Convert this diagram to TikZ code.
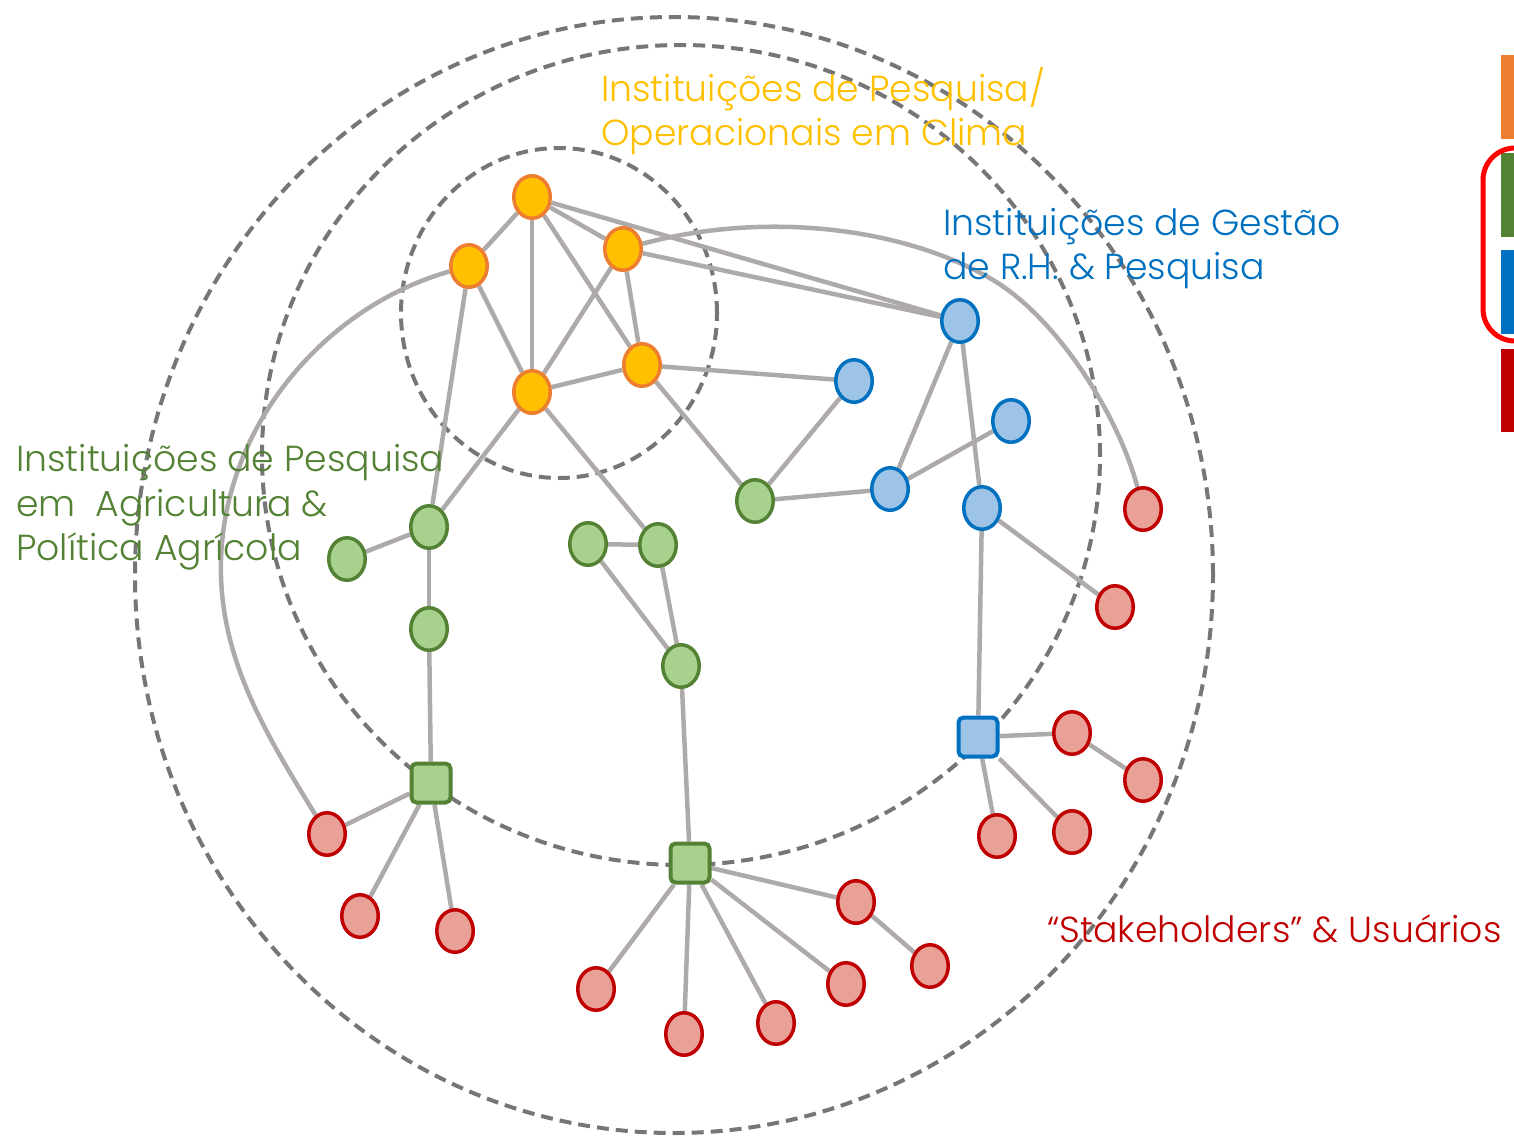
\documentclass[tikz,border=0pt]{standalone}
\usepackage{fontspec}
\setmainfont{Poppins}[UprightFont=* Light]
\usetikzlibrary{shapes.geometric}
\definecolor{orF}{HTML}{FFC000}
\definecolor{orB}{HTML}{ED7D31}
\definecolor{blF}{HTML}{9DC3E6}
\definecolor{blB}{HTML}{0070C0}
\definecolor{grF}{HTML}{A9D18E}
\definecolor{grB}{HTML}{548235}
\definecolor{rdF}{HTML}{E9A097}
\definecolor{rdB}{HTML}{C00000}
\definecolor{edgeC}{HTML}{AEAAAA}
\definecolor{ringC}{HTML}{767676}
\definecolor{brk}{HTML}{FF0000}
\pgfdeclarelayer{bg}
\pgfsetlayers{bg,main}
\begin{document}
\begin{tikzpicture}[x=1pt,y=-1pt,
  nd/.style={ellipse,minimum width=36.5pt,minimum height=42.5pt,inner sep=0pt,line width=3.5pt},
  onode/.style={nd,draw=orB,fill=orF},
  bnode/.style={nd,draw=blB,fill=blF},
  gnode/.style={nd,draw=grB,fill=grF},
  rnode/.style={nd,draw=rdB,fill=rdF},
  sq/.style={rectangle,rounded corners=5pt,minimum size=39pt,inner sep=0pt,line width=4pt},
  gsq/.style={sq,draw=grB,fill=grF},
  bsq/.style={sq,draw=blB,fill=blF},
  edge/.style={draw=edgeC,line width=4.5pt},
  ring/.style={draw=ringC,line width=4pt,dash pattern=on 12pt off 7pt},
  lbl/.style={anchor=base west,inner sep=0pt,font=\fontsize{36.2}{42}\selectfont}
]
\useasboundingbox (0,0) rectangle (1514,1135);

% nodes
\node[onode] (O1) at (532,197) {};
\node[onode] (O2) at (469,266) {};
\node[onode] (O3) at (623,249) {};
\node[onode] (O4) at (642,365) {};
\node[onode] (O5) at (532,392) {};
\node[bnode] (B1) at (960,321) {};
\node[bnode] (B2) at (854,381) {};
\node[bnode] (B3) at (1011,421) {};
\node[bnode] (B4) at (890,489) {};
\node[bnode] (B5) at (982,508) {};
\node[bsq] (BS) at (978,737) {};
\node[gnode] (G1) at (429,527) {};
\node[gnode] (G2) at (347,559) {};
\node[gnode] (G3) at (429,629) {};
\node[gnode] (G4) at (588,544) {};
\node[gnode] (G5) at (658,545) {};
\node[gnode] (G6) at (681,666) {};
\node[gnode] (G7) at (755,501) {};
\node[gsq] (GS1) at (431,783) {};
\node[gsq] (GS2) at (690,863) {};
\node[rnode] (R1) at (1143,509) {};
\node[rnode] (R2) at (1115,607) {};
\node[rnode] (R3) at (1072,733) {};
\node[rnode] (R4) at (1143,780) {};
\node[rnode] (R5) at (997,836) {};
\node[rnode] (R6) at (1072,832) {};
\node[rnode] (R7) at (327,834) {};
\node[rnode] (R8) at (360,916) {};
\node[rnode] (R9) at (455,931) {};
\node[rnode] (R10) at (856,902) {};
\node[rnode] (R11) at (930,966) {};
\node[rnode] (R12) at (596,989) {};
\node[rnode] (R13) at (684,1034) {};
\node[rnode] (R14) at (776,1023) {};
\node[rnode] (R15) at (846,984) {};

\begin{pgfonlayer}{bg}
\draw[ring] (674,575) ellipse [x radius=539pt, y radius=558pt];
\draw[ring] (681,455) ellipse [x radius=419pt, y radius=410pt];
\draw[ring] (559,313) ellipse [x radius=158pt, y radius=165pt];
% edges
\draw[edge] (O1) -- (O2);
\draw[edge] (O1) -- (O5);
\draw[edge] (O1) -- (O3);
\draw[edge] (O1) -- (O4);
\draw[edge] (O1) -- (B1);
\draw[edge] (O3) -- (B1);
\draw[edge] (O3) -- (O4);
\draw[edge] (O3) -- (O5);
\draw[edge] (O2) -- (O5);
\draw[edge] (O2) -- (G1);
\draw[edge] (O5) -- (O4);
\draw[edge] (O5) -- (G1);
\draw[edge] (O5) -- (G5);
\draw[edge] (O4) -- (B2);
\draw[edge] (O4) -- (G7);
\draw[edge] (O3) .. controls (760,212) and (900,225) .. (993,280) .. controls (1060,320) and (1120,420) .. (R1);
\draw[edge] (O2) .. controls (330,305) and (225,420) .. (221,560) .. controls (218,660) and (270,740) .. (R7);
\draw[edge] (G1) -- (G2);
\draw[edge] (G1) -- (G3);
\draw[edge] (G3) -- (GS1);
\draw[edge] (G4) -- (G5);
\draw[edge] (G4) -- (G6);
\draw[edge] (G5) -- (G6);
\draw[edge] (G6) -- (GS2);
\draw[edge] (G7) -- (B2);
\draw[edge] (G7) -- (B4);
\draw[edge] (GS1) -- (R7);
\draw[edge] (GS1) -- (R8);
\draw[edge] (GS1) -- (R9);
\draw[edge] (GS2) -- (R12);
\draw[edge] (GS2) -- (R13);
\draw[edge] (GS2) -- (R14);
\draw[edge] (GS2) -- (R15);
\draw[edge] (GS2) -- (R10);
\draw[edge] (R10) -- (R11);
\draw[edge] (B1) -- (B4);
\draw[edge] (B1) -- (B5);
\draw[edge] (B4) -- (B3);
\draw[edge] (B5) -- (R2);
\draw[edge] (B5) -- (BS);
\draw[edge] (BS) -- (R3);
\draw[edge] (R3) -- (R4);
\draw[edge] (BS) -- (R5);
\draw[edge] (BS) -- (R6);
\end{pgfonlayer}

% labels
\node[lbl,text=orF] (LO1) at (601,101) {Instituições de Pesquisa/};
\node[lbl,text=orF] (LO2) at (601,145) {Operacionais em Clima};
\node[lbl,text=blB] (LB1) at (943,235) {Instituições de Gestão};
\node[lbl,text=blB] (LB2) at (943,279) {de R.H. \& Pesquisa};
\node[lbl,text=grB] (LG1) at (16,471) {Instituições de Pesquisa};
\node[lbl,text=grB] (LG2) at (16,516) {em\ \ Agricultura \&};
\node[lbl,text=grB] (LG3) at (16,560) {Política Agrícola};
\node[lbl,text=rdB] (LR1) at (1047,942) {“Stakeholders” \& Usuários};

% legend
\fill[orB] (1501,55) rectangle (1514,139);
\fill[grB] (1501,153) rectangle (1514,237);
\fill[blB] (1501,250) rectangle (1514,334);
\fill[rdB] (1501,349) rectangle (1514,432);
\draw[brk,line width=5pt,rounded corners=32pt] (1520,148) -- (1483,148) -- (1483,341) -- (1520,341);
\end{tikzpicture}
\end{document}
